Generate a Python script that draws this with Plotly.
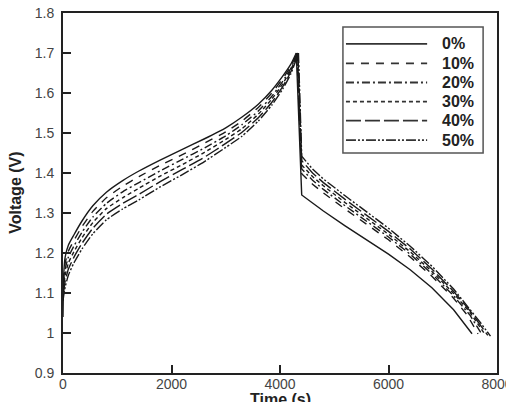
import plotly.graph_objects as go

labels = ["0%", "10%", "20%", "30%", "40%", "50%"]
dashes = ["solid", "8px,7px", "8px,3px,2px,3px", "4px,3px", "15px,4px", "10px,2px,2px,2px,2px,2px"]

# charge branch (time in s, voltage in V)
charge_t_common = [0, 15, 40, 100, 200, 350, 550, 800, 1100, 1400, 1800, 2200, 2600, 3000, 3300, 3600, 3850, 4050, 4200]
charge_peak_t = [4300, 4310, 4320, 4325, 4330, 4340]
charge_v = [
    [1.04, 1.150, 1.190, 1.220, 1.245, 1.280, 1.318, 1.352, 1.381, 1.405, 1.433, 1.459, 1.485, 1.513, 1.540, 1.572, 1.607, 1.642, 1.672, 1.70],
    [1.13, 1.139, 1.175, 1.205, 1.231, 1.266, 1.304, 1.338, 1.367, 1.391, 1.420, 1.446, 1.474, 1.503, 1.530, 1.564, 1.600, 1.636, 1.667, 1.70],
    [1.12, 1.128, 1.160, 1.190, 1.217, 1.252, 1.290, 1.324, 1.353, 1.376, 1.406, 1.434, 1.462, 1.493, 1.521, 1.555, 1.592, 1.629, 1.662, 1.70],
    [1.11, 1.117, 1.145, 1.175, 1.203, 1.238, 1.276, 1.311, 1.338, 1.362, 1.393, 1.421, 1.451, 1.484, 1.511, 1.547, 1.585, 1.623, 1.658, 1.70],
    [1.095, 1.106, 1.130, 1.160, 1.189, 1.224, 1.262, 1.297, 1.324, 1.347, 1.379, 1.409, 1.439, 1.474, 1.502, 1.538, 1.577, 1.616, 1.653, 1.70],
    [1.08, 1.095, 1.115, 1.145, 1.175, 1.210, 1.248, 1.283, 1.310, 1.333, 1.366, 1.396, 1.428, 1.464, 1.492, 1.530, 1.570, 1.610, 1.648, 1.70],
]

# discharge branch
discharge_t = [
    [4300, 4360, 4400, 4600, 4800, 5200, 5600, 6000, 6400, 6800, 7200, 7400, 7540],
    [4310, 4365, 4400, 4600, 4800, 5200, 5600, 6000, 6400, 6800, 7200, 7450, 7650],
    [4320, 4370, 4400, 4600, 4800, 5200, 5600, 6000, 6400, 6800, 7200, 7500, 7720],
    [4325, 4372, 4400, 4600, 4800, 5200, 5600, 6000, 6400, 6800, 7200, 7500, 7780],
    [4330, 4376, 4400, 4600, 4800, 5200, 5600, 6000, 6400, 6800, 7200, 7500, 7830],
    [4340, 4380, 4400, 4600, 4800, 5200, 5600, 6000, 6400, 6800, 7200, 7500, 7700, 7880],
]
discharge_v = [
    [1.70, 1.50, 1.345, 1.325, 1.305, 1.268, 1.233, 1.197, 1.158, 1.113, 1.058, 1.024, 0.998],
    [1.70, 1.50, 1.398, 1.372, 1.350, 1.310, 1.272, 1.233, 1.190, 1.142, 1.087, 1.045, 0.998],
    [1.70, 1.50, 1.410, 1.382, 1.359, 1.318, 1.280, 1.240, 1.197, 1.148, 1.093, 1.045, 0.997],
    [1.70, 1.50, 1.420, 1.391, 1.368, 1.326, 1.287, 1.247, 1.203, 1.154, 1.099, 1.052, 0.996],
    [1.70, 1.50, 1.431, 1.400, 1.376, 1.334, 1.295, 1.254, 1.210, 1.160, 1.104, 1.056, 0.994],
    [1.70, 1.50, 1.442, 1.410, 1.385, 1.343, 1.303, 1.262, 1.217, 1.167, 1.110, 1.060, 1.025, 0.992],
]

x_ticks = [0, 2000, 4000, 6000, 8000]
y_ticks = [0.9, 1.0, 1.1, 1.2, 1.3, 1.4, 1.5, 1.6, 1.7, 1.8]

LINE = "#1a1a1a"
FONT = "Arial, Liberation Sans, sans-serif"

fig = go.Figure()
for i, lab in enumerate(labels):
    fig.add_trace(go.Scatter(x=charge_t_common + [charge_peak_t[i]], y=charge_v[i], mode="lines", name=lab,
                             line=dict(color=LINE, width=1.4, dash=dashes[i], shape="spline", smoothing=0.5),
                             showlegend=False))
    fig.add_trace(go.Scatter(x=discharge_t[i], y=discharge_v[i], mode="lines", name=lab,
                             line=dict(color=LINE, width=1.4, dash=dashes[i]),
                             showlegend=False))

# custom legend box
shapes = [dict(type="rect", xref="paper", yref="paper", x0=0.645, x1=0.968, y0=0.611, y1=0.961,
               line=dict(color="#555555", width=1.5), fillcolor="white", layer="above")]
annotations = []
row_y = [0.914, 0.860, 0.807, 0.754, 0.701, 0.647]
for i, lab in enumerate(labels):
    shapes.append(dict(type="line", xref="paper", yref="paper", x0=0.652, x1=0.839, y0=row_y[i], y1=row_y[i],
                       line=dict(color="#333333", width=1.8, dash=dashes[i]), layer="above"))
    annotations.append(dict(xref="paper", yref="paper", x=0.869, y=row_y[i], text=lab, showarrow=False,
                            xanchor="left", yanchor="middle",
                            font=dict(family=FONT, size=16, color="#222222", weight="bold")))

# axis titles
annotations.append(dict(xref="paper", yref="paper", x=0.5, y=-0.044, text="Time (s)", showarrow=False,
                        xanchor="center", yanchor="top",
                        font=dict(family=FONT, size=16, color="#222222", weight="bold")))
annotations.append(dict(xref="paper", yref="paper", x=-0.111, y=0.5, text="Voltage (V)", showarrow=False,
                        xanchor="center", yanchor="middle", textangle=-90,
                        font=dict(family=FONT, size=16, color="#222222", weight="bold")))

fig.update_layout(
    width=506, height=402,
    margin=dict(l=63, r=9, t=13, b=29),
    paper_bgcolor="white", plot_bgcolor="white",
    shapes=shapes, annotations=annotations,
    font=dict(family=FONT, color="#333333"),
)
fig.update_xaxes(range=[0, 8000], tickvals=x_ticks, ticks="inside", ticklen=8, tickwidth=1.5, tickcolor="#222",
                 showline=True, linecolor="#222", linewidth=2, mirror=True, showgrid=False, zeroline=False,
                 tickfont=dict(size=14, color="#444"), ticklabeloverflow="allow", automargin=False,
                 ticklabelstandoff=-3)
fig.update_yaxes(range=[0.9, 1.8], tickvals=y_ticks, ticks="inside", ticklen=8, tickwidth=1.5, tickcolor="#222",
                 showline=True, linecolor="#222", linewidth=2, mirror=True, showgrid=False, zeroline=False,
                 tickfont=dict(size=14, color="#444"), ticklabelstandoff=4, ticklabeloverflow="allow",
                 automargin=False)

fig.write_html("out.html")
